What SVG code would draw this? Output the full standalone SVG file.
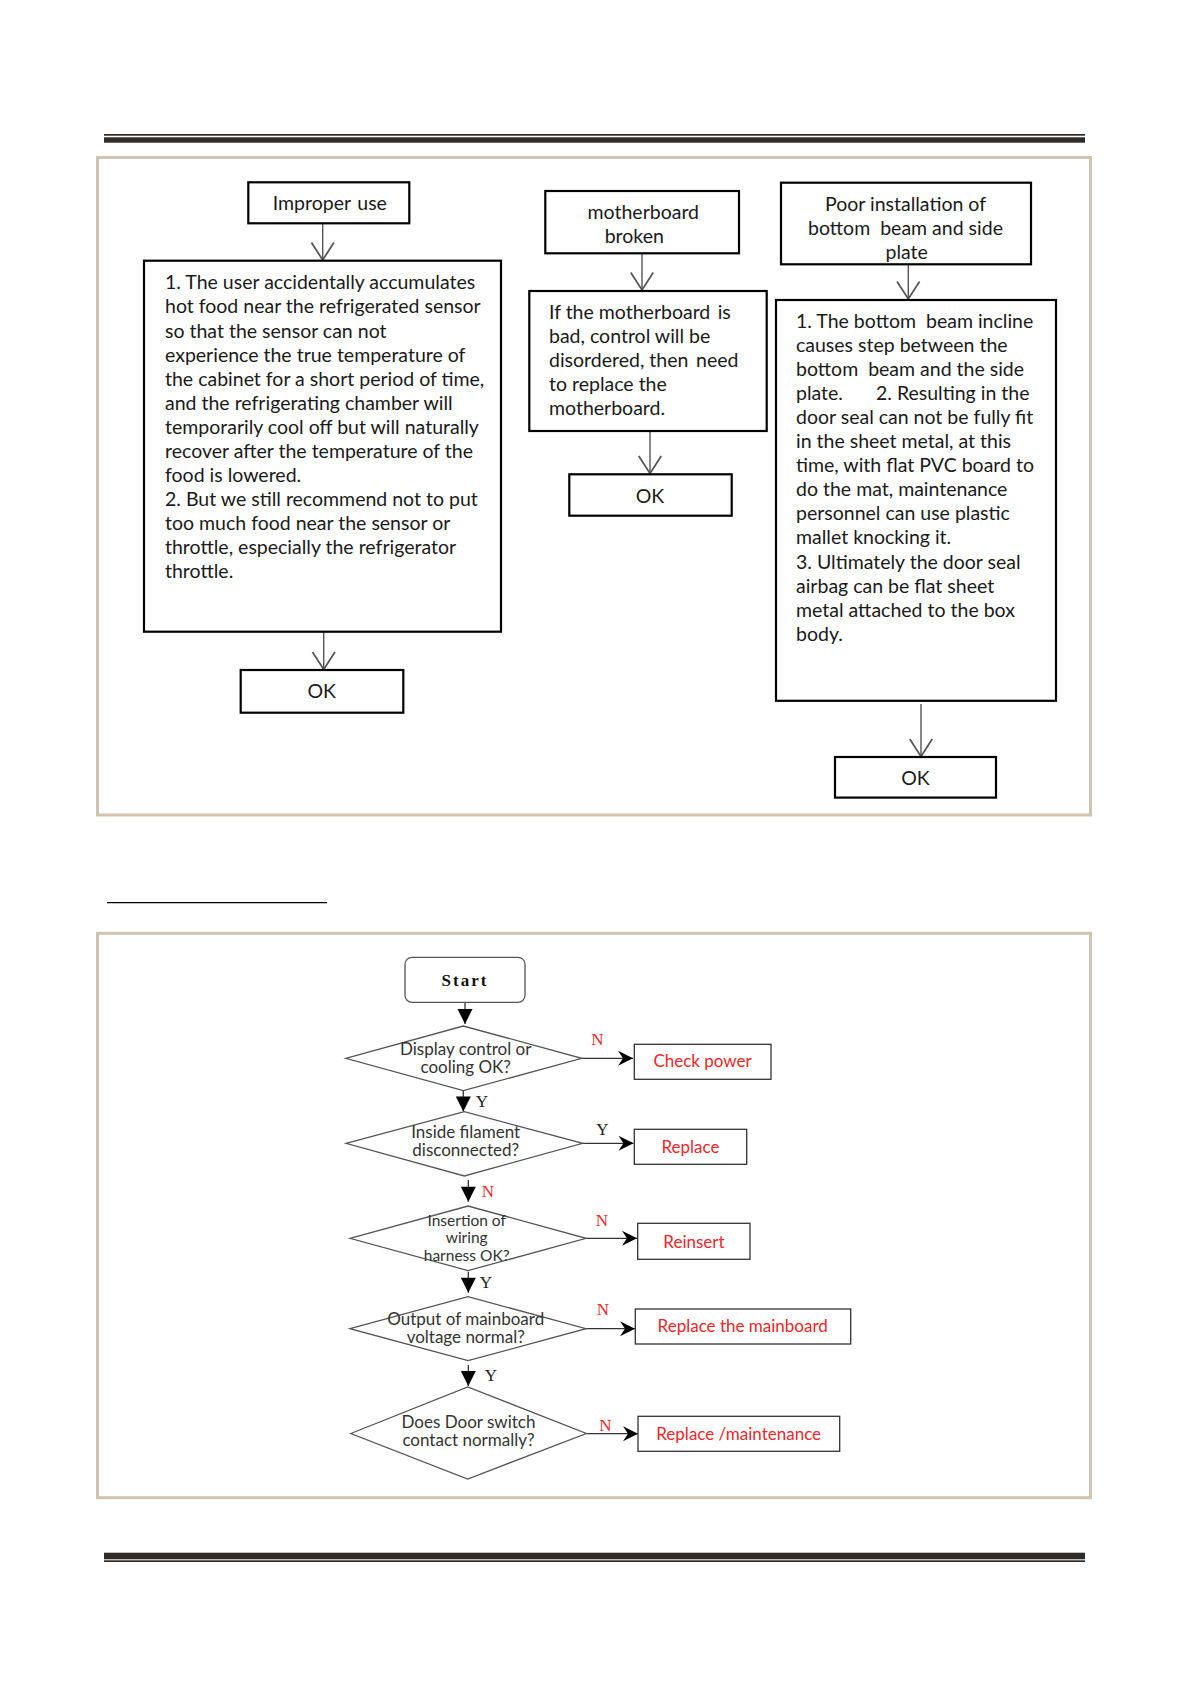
<svg xmlns="http://www.w3.org/2000/svg" width="1191" height="1684" viewBox="0 0 1191 1684">
<defs>
<style>
.frame{fill:none;stroke:#d0c4b1;stroke-width:3}
.rule{fill:#2f2b28}
.tb{fill:#fff;stroke:#000;stroke-width:2.2}
.t{font-family:Lato,"Open Sans",sans-serif;font-size:19.5px;fill:#1a1a1a;white-space:pre}
.tc{font-family:Lato,"Open Sans",sans-serif;font-size:19.5px;fill:#1a1a1a;text-anchor:middle;white-space:pre}
.ca{fill:none;stroke:#555;stroke-width:1.4}
.fb{fill:#fff;stroke:#333;stroke-width:1.3}
.dm{fill:#fff;stroke:#555;stroke-width:1.3}
.ft{font-family:Lato,"Open Sans",sans-serif;font-size:17px;fill:#333;text-anchor:middle}
.fs{font-family:Lato,"Open Sans",sans-serif;font-size:15.5px;fill:#333;text-anchor:middle}
.rt{font-family:Lato,"Open Sans",sans-serif;font-size:17px;fill:#e8282c;text-anchor:middle}
.yn{font-family:"Liberation Serif",serif;font-size:17px;text-anchor:middle}
.fa{fill:none;stroke:#333;stroke-width:1.3}
</style>
<marker id="openV" markerUnits="userSpaceOnUse" markerWidth="30" markerHeight="30" refX="0" refY="0" orient="auto" viewBox="-16 -12 20 24" overflow="visible">
<path d="M-14,-9 L0,0 L-14,9" fill="none" stroke="#555" stroke-width="1.4"/>
</marker>
<marker id="tri" markerUnits="userSpaceOnUse" markerWidth="20" markerHeight="20" refX="0" refY="0" orient="auto" viewBox="-14 -8 16 16" overflow="visible">
<path d="M-12,-6 L0,0 L-12,6 Z" fill="#000"/>
</marker>
<marker id="stealth" markerUnits="userSpaceOnUse" markerWidth="20" markerHeight="20" refX="0" refY="0" orient="auto" viewBox="-14 -8 16 16" overflow="visible">
<path d="M-12,-6 L0,0 L-12,6 L-8,0 Z" fill="#000"/>
</marker>
</defs>
<rect width="1191" height="1684" fill="#fff"/>

<g id="page-rules">
<rect class="rule" x="104" y="134" width="981" height="1.7"/>
<rect class="rule" x="104" y="137.3" width="981" height="5.4"/>
<rect class="rule" x="104" y="1552.7" width="981" height="6.6"/>
<rect class="rule" x="104" y="1560.3" width="981" height="1.7"/>
<line x1="107" y1="902.7" x2="327" y2="902.7" stroke="#000" stroke-width="1.3"/>
</g>

<rect id="frame-top" class="frame" x="97.5" y="157.5" width="993" height="657.5"/>
<rect id="frame-bottom" class="frame" x="97.5" y="933.3" width="993" height="564.4"/>

<g id="connectors">
<line class="ca" x1="322.7" y1="223.3" x2="322.7" y2="260" marker-end="url(#openV)"/>
<line class="ca" x1="642" y1="253.3" x2="642" y2="290" marker-end="url(#openV)"/>
<line class="ca" x1="908.3" y1="264.3" x2="908.3" y2="299" marker-end="url(#openV)"/>
<line class="ca" x1="323.7" y1="632" x2="323.7" y2="669.5" marker-end="url(#openV)"/>
<line class="ca" x1="650" y1="431" x2="650" y2="473.5" marker-end="url(#openV)"/>
<line class="ca" x1="921" y1="704" x2="921" y2="756.5" marker-end="url(#openV)"/>

<line class="fa" x1="465" y1="1002.3" x2="465" y2="1024" marker-end="url(#tri)"/>
<line class="fa" x1="581.7" y1="1058.3" x2="633" y2="1058.3" marker-end="url(#stealth)"/>
<line class="fa" x1="463.3" y1="1090.7" x2="463.3" y2="1111.5" marker-end="url(#tri)"/>
<line class="fa" x1="582.7" y1="1143.3" x2="633.5" y2="1143.3" marker-end="url(#stealth)"/>
<line class="fa" x1="468.3" y1="1180" x2="468.3" y2="1201.7" marker-end="url(#tri)"/>
<line class="fa" x1="586" y1="1238.3" x2="637" y2="1238.3" marker-end="url(#stealth)"/>
<line class="fa" x1="468.3" y1="1271.7" x2="468.3" y2="1292.7" marker-end="url(#tri)"/>
<line class="fa" x1="586" y1="1328.7" x2="635" y2="1328.7" marker-end="url(#stealth)"/>
<line class="fa" x1="468.3" y1="1365" x2="468.3" y2="1386" marker-end="url(#tri)"/>
<line class="fa" x1="586.4" y1="1433.7" x2="638" y2="1433.7" marker-end="url(#stealth)"/>

<text class="yn" x="597.5" y="1045" fill="#e8282c">N</text>
<text class="yn" x="482" y="1106.7" fill="#222">Y</text>
<text class="yn" x="602.5" y="1135" fill="#222">Y</text>
<text class="yn" x="488" y="1196.7" fill="#e8282c">N</text>
<text class="yn" x="602" y="1225.7" fill="#e8282c">N</text>
<text class="yn" x="486" y="1288.3" fill="#222">Y</text>
<text class="yn" x="603" y="1315" fill="#e8282c">N</text>
<text class="yn" x="491" y="1381" fill="#222">Y</text>
<text class="yn" x="605.3" y="1430.7" fill="#e8282c">N</text>
</g>

<g id="improper-use">
<rect class="tb" x="248.3" y="182.3" width="161" height="41"/>
<text class="t" x="272.7" y="210">Improper</text><text class="t" x="357.3" y="210">use</text>
</g>

<g id="improper-detail">
<rect class="tb" x="144" y="260.7" width="357" height="371"/>
<text class="t" x="165" y="289.3">1. The user accidentally accumulates</text>
<text class="t" x="165" y="313.4">hot food near the refrigerated sensor</text>
<text class="t" x="165" y="337.5">so that the sensor can not</text>
<text class="t" x="165" y="361.5">experience the true temperature of</text>
<text class="t" x="165" y="385.6">the cabinet for a short period of time,</text>
<text class="t" x="165" y="409.7">and the refrigerating chamber will</text>
<text class="t" x="165" y="433.8">temporarily cool off but will naturally</text>
<text class="t" x="165" y="457.9">recover after the temperature of the</text>
<text class="t" x="165" y="481.9">food is lowered.</text>
<text class="t" x="165" y="506">2. But we still recommend not to put</text>
<text class="t" x="165" y="530.1">too much food near the sensor or</text>
<text class="t" x="165" y="554.2">throttle, especially the refrigerator</text>
<text class="t" x="165" y="578.3">throttle.</text>
</g>

<g id="ok-1">
<rect class="tb" x="240.7" y="670" width="162.6" height="42.7"/>
<text class="tc" x="321.7" y="698.3">OK</text>
</g>

<g id="motherboard-broken">
<rect class="tb" x="545.3" y="191" width="193.7" height="62.3"/>
<text class="tc" x="643.3" y="219.3">motherboard</text>
<text class="tc" x="634.3" y="243.3">broken</text>
</g>

<g id="motherboard-detail">
<rect class="tb" x="529.3" y="291" width="237.4" height="140"/>
<text class="t" x="549" y="319">If the motherboard</text><text class="t" x="717.7" y="319">is</text>
<text class="t" x="549" y="342.9">bad, control will be</text>
<text class="t" x="549" y="366.8">disordered, then</text><text class="t" x="696" y="366.8">need</text>
<text class="t" x="549" y="390.7">to replace the</text>
<text class="t" x="549" y="414.6">motherboard.</text>
</g>

<g id="ok-2">
<rect class="tb" x="569.3" y="474.3" width="162.4" height="41.4"/>
<text class="tc" x="650" y="503.3">OK</text>
</g>

<g id="poor-installation">
<rect class="tb" x="781" y="182.7" width="250" height="81.6"/>
<text class="tc" x="905.5" y="210.7">Poor installation of</text>
<text class="tc" x="905.5" y="235">bottom  beam and side</text>
<text class="tc" x="906.7" y="259.3">plate</text>
</g>

<g id="poor-detail">
<rect class="tb" x="776" y="300" width="280" height="400.8"/>
<text class="t" x="796" y="327.5">1. The bottom  beam incline</text>
<text class="t" x="796" y="351.6">causes step between the</text>
<text class="t" x="796" y="375.7">bottom  beam and the side</text>
<text class="t" x="796" y="399.8">plate.</text><text class="t" x="876" y="399.8">2. Resulting in the</text>
<text class="t" x="796" y="423.9">door seal can not be fully fit</text>
<text class="t" x="796" y="448">in the sheet metal, at this</text>
<text class="t" x="796" y="472.1">time, with flat PVC board to</text>
<text class="t" x="796" y="496.2">do the mat, maintenance</text>
<text class="t" x="796" y="520.3">personnel can use plastic</text>
<text class="t" x="796" y="544.4">mallet knocking it.</text>
<text class="t" x="796" y="568.5">3. Ultimately the door seal</text>
<text class="t" x="796" y="592.6">airbag can be flat sheet</text>
<text class="t" x="796" y="616.7">metal attached to the box</text>
<text class="t" x="796" y="640.8">body.</text>
</g>

<g id="ok-3">
<rect class="tb" x="835" y="757" width="161" height="40.6"/>
<text class="tc" x="915.5" y="784.7">OK</text>
</g>

<g id="start">
<rect x="405" y="957.3" width="120" height="45" rx="7" fill="#fff" stroke="#555" stroke-width="1.3"/>
<text x="465" y="986" font-family="'Liberation Serif',serif" font-weight="bold" font-size="17" letter-spacing="2" text-anchor="middle" fill="#111">Start</text>
</g>

<g id="d-display">
<polygon class="dm" points="345.7,1058.3 463.3,1026 581.7,1058.3 463.3,1090.7"/>
<text class="ft" x="465.7" y="1055">Display control or</text>
<text class="ft" x="465.7" y="1072.7">cooling OK?</text>
</g>
<g id="check-power">
<rect class="fb" x="634.3" y="1044.3" width="136.7" height="35"/>
<text class="rt" x="702.6" y="1067">Check power</text>
</g>

<g id="d-filament">
<polygon class="dm" points="346,1143.3 464.3,1111.7 582.7,1143.3 464.3,1176"/>
<text class="ft" x="465.7" y="1138.3">Inside filament</text>
<text class="ft" x="465.7" y="1156">disconnected?</text>
</g>
<g id="replace">
<rect class="fb" x="634.3" y="1129.3" width="112.4" height="35"/>
<text class="rt" x="690.5" y="1152.5">Replace</text>
</g>

<g id="d-harness">
<polygon class="dm" points="350,1238.3 468,1206 586,1238.3 468,1270.7"/>
<text class="fs" x="466.7" y="1226">Insertion of</text>
<text class="fs" x="466.7" y="1243.3">wiring</text>
<text class="fs" x="466.7" y="1260.6">harness OK?</text>
</g>
<g id="reinsert">
<rect class="fb" x="637.7" y="1223.3" width="112.3" height="36"/>
<text class="rt" x="694" y="1247.5">Reinsert</text>
</g>

<g id="d-mainboard">
<polygon class="dm" points="350,1328.7 468,1296.7 586,1328.7 468,1360.7"/>
<text class="ft" x="465.7" y="1325">Output of mainboard</text>
<text class="ft" x="465.7" y="1342.7">voltage normal?</text>
</g>
<g id="replace-mainboard">
<rect class="fb" x="635.3" y="1309" width="215.4" height="35"/>
<text class="rt" x="742.7" y="1331.5">Replace the mainboard</text>
</g>

<g id="d-door">
<polygon class="dm" points="350.8,1433.5 467.7,1387 586.4,1433.5 467.7,1479"/>
<text class="ft" x="468.5" y="1428">Does Door switch</text>
<text class="ft" x="468.5" y="1446">contact normally?</text>
</g>
<g id="replace-maintenance">
<rect class="fb" x="638" y="1416.3" width="201.7" height="35"/>
<text class="rt" x="738.7" y="1439.5">Replace /maintenance</text>
</g>
</svg>
